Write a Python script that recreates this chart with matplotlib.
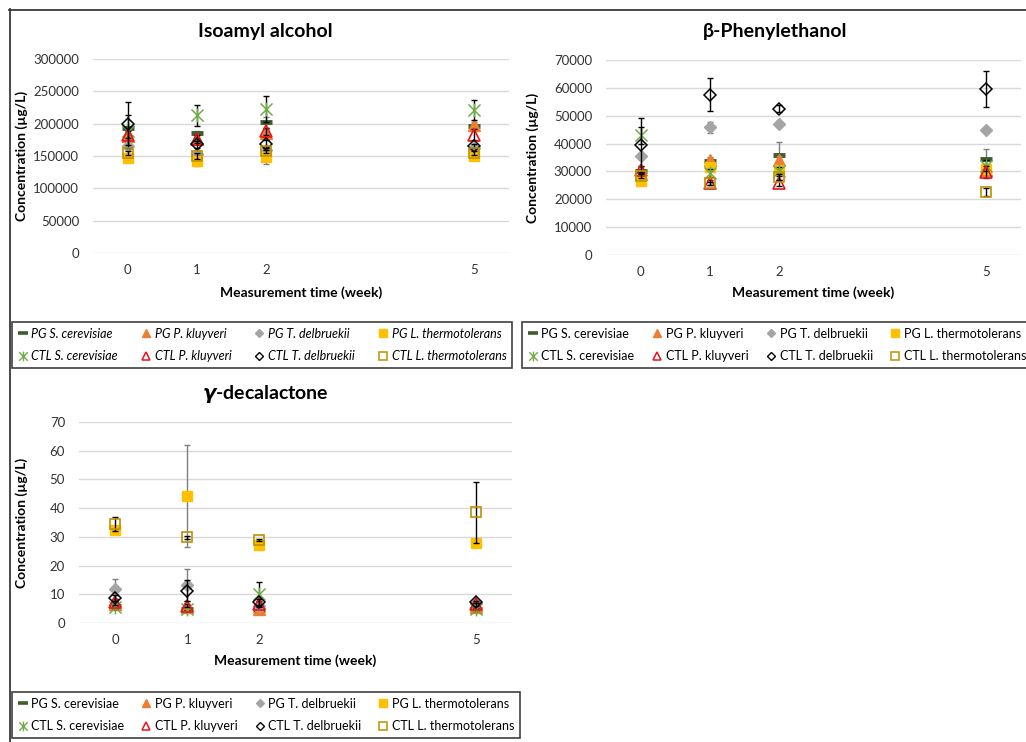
import matplotlib
matplotlib.use("Agg")
import matplotlib.pyplot as plt
from matplotlib.path import Path
from matplotlib.lines import Line2D

W, H = 1026, 742
DPI = 100

plt.rcParams["font.family"] = ["Lato", "DejaVu Sans"]
plt.rcParams["mathtext.fontset"] = "custom"
plt.rcParams["mathtext.it"] = "DejaVu Sans:italic:bold"
plt.rcParams["mathtext.rm"] = "Lato:bold"

# ---- data -------------------------------------------------------------
weeks = [0, 1, 2, 5]
week_labels = ["0", "1", "2", "5"]

series_names = [
    "PG S. cerevisiae", "PG P. kluyveri", "PG T. delbruekii", "PG L. thermotolerans",
    "CTL S. cerevisiae", "CTL P. kluyveri", "CTL T. delbruekii", "CTL L. thermotolerans",
]

# Isoamyl alcohol (µg/L)
iso_pg_sc = [193000, 186000, 202000, 197000]
iso_pg_pk = [181000, 177000, 185000, 198000]
iso_pg_td = [165000, 153000, 160000, 162000]
iso_pg_lt = [147000, 143000, 148000, 150000]
iso_ctl_sc = [188000, 213000, 223000, 221000]
iso_ctl_pk = [183000, 176000, 188000, 183000]
iso_ctl_td = [200000, 168000, 169000, 165000]
iso_ctl_lt = [155000, 150000, 157000, 155000]
iso_err_pg_sc = [3000, 3000, 8000, 3000]
iso_err_pg_pk = [5000, 5000, 6000, 5000]
iso_err_pg_td = [3000, 3000, 3000, 3000]
iso_err_pg_lt = [4000, 9000, 11000, 5000]
iso_err_ctl_sc = [25000, 16000, 20000, 15000]
iso_err_ctl_pk = [5000, 6000, 6000, 8000]
iso_err_ctl_td = [33000, 5000, 6000, 3000]
iso_err_ctl_lt = [3000, 4000, 3000, 3000]

# beta-Phenylethanol (µg/L)
pea_pg_sc = [30000, 33700, 36000, 34500]
pea_pg_pk = [29000, 34000, 34000, 30500]
pea_pg_td = [35500, 45800, 47000, 45000]
pea_pg_lt = [26500, 31500, 30500, 31000]
pea_ctl_sc = [43000, 29500, 30000, 32000]
pea_ctl_pk = [30500, 26000, 25800, 29800]
pea_ctl_td = [39500, 57500, 52500, 59700]
pea_ctl_lt = [28500, 25800, 28000, 22500]
pea_err_pg_sc = [1500, 1000, 4700, 3500]
pea_err_pg_pk = [1000, 1000, 1500, 1500]
pea_err_pg_td = [1000, 2000, 1000, 1000]
pea_err_pg_lt = [1000, 1500, 1000, 1000]
pea_err_ctl_sc = [3000, 1500, 1500, 2000]
pea_err_ctl_pk = [1500, 1000, 1000, 2300]
pea_err_ctl_td = [9800, 5900, 1200, 6500]
pea_err_ctl_lt = [1000, 500, 1000, 1500]

# gamma-decalactone (µg/L)
gdl_pg_sc = [6.0, 5.0, 4.5, 5.0]
gdl_pg_pk = [6.5, 5.5, 5.0, 5.5]
gdl_pg_td = [11.8, 13.3, 6.0, 7.0]
gdl_pg_lt = [32.5, 44.3, 27.0, 28.0]
gdl_ctl_sc = [5.5, 5.0, 10.0, 4.8]
gdl_ctl_pk = [7.2, 6.0, 6.5, 6.5]
gdl_ctl_td = [8.8, 11.2, 7.4, 7.3]
gdl_ctl_lt = [34.5, 29.8, 28.8, 38.5]
gdl_err_pg_sc = [0.5, 0.5, 0.5, 0.5]
gdl_err_pg_pk = [0.5, 0.5, 0.5, 0.5]
gdl_err_pg_td = [3.4, 5.5, 1.0, 0.5]
gdl_err_pg_lt = [1.0, 17.7, 1.0, 1.0]
gdl_err_ctl_sc = [0.5, 0.5, 4.2, 0.5]
gdl_err_ctl_pk = [1.0, 0.5, 1.0, 0.5]
gdl_err_ctl_td = [1.0, 3.7, 1.0, 0.5]
gdl_err_ctl_lt = [2.5, 0.5, 0.3, 10.5]

iso_ticks = [0, 50000, 100000, 150000, 200000, 250000, 300000]
pea_ticks = [0, 10000, 20000, 30000, 40000, 50000, 60000, 70000]
gdl_ticks = [0, 10, 20, 30, 40, 50, 60, 70]

# ---- styles -----------------------------------------------------------
DARK_GREEN = "#3B5E2B"
ORANGE = "#ED7D31"
GRAY = "#A5A5A5"
YELLOW = "#FFC000"
GREEN = "#70AD47"
RED = "#E8141C"
GOLD = "#BF9000"

star = Path(
    [(-1, -1), (1, 1), (-1, 1), (1, -1), (0, -1.15), (0, 1.15)],
    [Path.MOVETO, Path.LINETO, Path.MOVETO, Path.LINETO, Path.MOVETO, Path.LINETO],
)

styles = [
    dict(marker="_", ms=9, mew=3.5, mec=DARK_GREEN, mfc=DARK_GREEN),
    dict(marker="^", ms=8.5, mec=ORANGE, mfc=ORANGE, mew=1.0),
    dict(marker="D", ms=6, mec=GRAY, mfc=GRAY, mew=1.0),
    dict(marker="s", ms=7.5, mec=YELLOW, mfc=YELLOW, mew=1.0),
    dict(marker=star, ms=10, mec=GREEN, mfc="none", mew=1.1),
    dict(marker="^", ms=8.5, mec=RED, mfc="none", mew=1.2),
    dict(marker="D", ms=6.5, mec="black", mfc="none", mew=1.1),
    dict(marker="s", ms=7.5, mec=GOLD, mfc="none", mew=1.2),
]
# smaller copies of the marker styles for the legend keys
legend_styles = [
    dict(marker="_", ms=7, mew=2.6, mec=DARK_GREEN, mfc=DARK_GREEN),
    dict(marker="^", ms=6, mec=ORANGE, mfc=ORANGE, mew=1.0),
    dict(marker="D", ms=4.2, mec=GRAY, mfc=GRAY, mew=1.0),
    dict(marker="s", ms=6, mec=YELLOW, mfc=YELLOW, mew=1.0),
    dict(marker=star, ms=7, mec=GREEN, mfc="none", mew=1.0),
    dict(marker="^", ms=6, mec=RED, mfc="none", mew=1.1),
    dict(marker="D", ms=4.5, mec="black", mfc="none", mew=1.0),
    dict(marker="s", ms=6, mec=GOLD, mfc="none", mew=1.1),
]
err_colors = ["#7F7F7F"] * 4 + ["#000000"] * 4


def fig_box(left, top, right, bottom):
    return [left / W, 1 - bottom / H, (right - left) / W, (bottom - top) / H]


fig = plt.figure(figsize=(W / DPI, H / DPI), dpi=DPI)
fig.patch.set_facecolor("white")

# outer frame lines
fig.add_artist(Line2D([9 / W, 1], [1 - 9.5 / H, 1 - 9.5 / H], color="#3A3A3A", lw=1.3))
fig.add_artist(Line2D([9.5 / W, 9.5 / W], [0, 1 - 9 / H], color="#3A3A3A", lw=1.3))


def panel(box, values, errors, ticks, title_xy, title, ylab_x, xlab_y, legend_box, italic):
    ax = fig.add_axes(fig_box(*box))
    for i in range(8):
        ax.errorbar(weeks, values[i], yerr=errors[i], fmt="none", ecolor=err_colors[i],
                    elinewidth=1.0, capsize=2.5, capthick=1.0, zorder=3 + i)
        ax.plot(weeks, values[i], linestyle="none", zorder=3.5 + i, **styles[i])
    ax.set_xlim(-0.5, 5.5)
    ax.set_ylim(ticks[0], ticks[-1])
    ax.set_yticks(ticks)
    ax.set_xticks(weeks)
    ax.set_xticklabels(week_labels)
    ax.grid(axis="y", color="#D9D9D9", lw=1.0)
    ax.set_axisbelow(True)
    for s in ax.spines.values():
        s.set_visible(False)
    ax.tick_params(axis="y", length=0, pad=10, labelsize=9.5, labelcolor="#333333")
    ax.tick_params(axis="x", length=0, pad=8, labelsize=9.5, labelcolor="#333333")
    ax.set_ylabel("Concentration (µg/L)", fontsize=10, fontweight="bold")
    ax.yaxis.label.set_va("center")
    ax.yaxis.set_label_coords(ylab_x, 0.5)
    ax.set_xlabel("Measurement time (week)", fontsize=10, fontweight="bold")
    ax.xaxis.label.set_va("center")
    ax.xaxis.set_label_coords(0.5, xlab_y)
    fig.text(title_xy[0] / W, 1 - title_xy[1] / H, title, fontsize=14, fontweight="bold",
             ha="center", va="center")

    order = [0, 4, 1, 5, 2, 6, 3, 7]
    handles = [Line2D([], [], linestyle="none", **legend_styles[i]) for i in order]
    labels = [series_names[i] for i in order]
    lx0, ly0, lx1, ly1 = legend_box
    leg = fig.legend(handles, labels, ncol=4, loc="upper left",
                     bbox_to_anchor=(lx0 / W, 1 - ly1 / H, (lx1 - lx0) / W, (ly1 - ly0) / H),
                     mode="expand", borderaxespad=0, fancybox=False, framealpha=1,
                     edgecolor="#404040", handlelength=0.8, handletextpad=0.3,
                     labelspacing=0.85, borderpad=0.45,
                     prop=dict(size=9, style="italic" if italic else "normal"))
    leg.get_frame().set_linewidth(1.2)
    return ax


panel((93, 59, 509, 253),
      [iso_pg_sc, iso_pg_pk, iso_pg_td, iso_pg_lt, iso_ctl_sc, iso_ctl_pk, iso_ctl_td, iso_ctl_lt],
      [iso_err_pg_sc, iso_err_pg_pk, iso_err_pg_td, iso_err_pg_lt,
       iso_err_ctl_sc, iso_err_ctl_pk, iso_err_ctl_td, iso_err_ctl_lt],
      iso_ticks, (265, 32), "Isoamyl alcohol", -0.171, -0.206, (12, 322, 512, 371), True)

panel((606, 60, 1021, 255),
      [pea_pg_sc, pea_pg_pk, pea_pg_td, pea_pg_lt, pea_ctl_sc, pea_ctl_pk, pea_ctl_td, pea_ctl_lt],
      [pea_err_pg_sc, pea_err_pg_pk, pea_err_pg_td, pea_err_pg_lt,
       pea_err_ctl_sc, pea_err_ctl_pk, pea_err_ctl_td, pea_err_ctl_lt],
      pea_ticks, (775, 32), "β-Phenylethanol", -0.176, -0.195, (522, 322, 1032, 371), False)

panel((79, 422, 512, 623),
      [gdl_pg_sc, gdl_pg_pk, gdl_pg_td, gdl_pg_lt, gdl_ctl_sc, gdl_ctl_pk, gdl_ctl_td, gdl_ctl_lt],
      [gdl_err_pg_sc, gdl_err_pg_pk, gdl_err_pg_td, gdl_err_pg_lt,
       gdl_err_ctl_sc, gdl_err_ctl_pk, gdl_err_ctl_td, gdl_err_ctl_lt],
      gdl_ticks, (265, 394), r"$\gamma$-decalactone", -0.132, -0.189, (12, 692, 520, 740), False)

fig.savefig("out.png", dpi=DPI, facecolor="white")
